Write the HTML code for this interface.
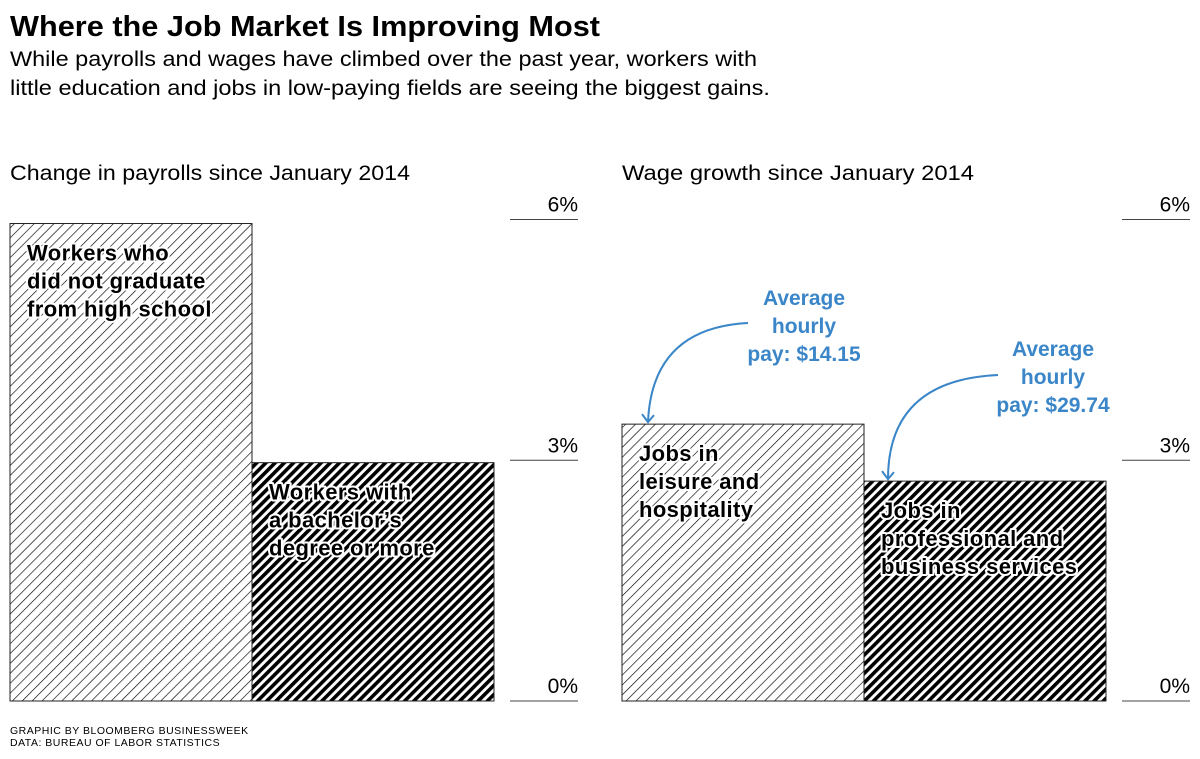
<!DOCTYPE html>
<html><head><meta charset="utf-8"><style>
html,body{margin:0;padding:0;background:#fff;}
svg{display:block;font-family:"Liberation Sans",sans-serif;}
.lbl{font-weight:bold;font-size:22px;fill:#000;stroke:#fff;stroke-width:4px;paint-order:stroke;stroke-linejoin:round;letter-spacing:0.4px}
.blue{font-weight:bold;font-size:21px;fill:#3a86c8;text-anchor:middle}
</style></head><body>
<svg id="chart" width="1200" height="759" viewBox="0 0 1200 759">
<defs>
<pattern id="light" patternUnits="userSpaceOnUse" width="7" height="7" patternTransform="rotate(45)"><rect width="7" height="7" fill="#fff"/><line x1="0" y1="0" x2="0" y2="7" stroke="#000" stroke-width="1.3"/></pattern>
<pattern id="dark" patternUnits="userSpaceOnUse" width="6.5" height="6.5" patternTransform="rotate(45)"><rect width="6.5" height="6.5" fill="#fff"/><rect x="0" y="0" width="3.6" height="6.5" fill="#000"/></pattern>
</defs>
<text x="10" y="36" font-size="29" font-weight="bold" textLength="590" lengthAdjust="spacingAndGlyphs">Where the Job Market Is Improving Most</text>
<text x="10" y="66" font-size="21" textLength="747" lengthAdjust="spacingAndGlyphs">While payrolls and wages have climbed over the past year, workers with</text>
<text x="10" y="95" font-size="21" textLength="760" lengthAdjust="spacingAndGlyphs">little education and jobs in low-paying fields are seeing the biggest gains.</text>
<text x="10" y="180" font-size="21" textLength="400" lengthAdjust="spacingAndGlyphs">Change in payrolls since January 2014</text>
<text x="622" y="180" font-size="21" textLength="352" lengthAdjust="spacingAndGlyphs">Wage growth since January 2014</text>
<g id="left"></g><g id="right"></g>
<text x="10" y="734" font-size="10.5" letter-spacing="0.5">GRAPHIC BY BLOOMBERG BUSINESSWEEK</text>
<text x="10" y="746" font-size="10.5" letter-spacing="0.5">DATA: BUREAU OF LABOR STATISTICS</text>
</svg>
<script>
const ticks = [0, 3, 6];
const tickLabels = ["0%", "3%", "6%"];
const payrollCategories = ["did-not-graduate", "bachelors-or-more"];
const payrollValues = [5.95, 2.97];
const wageCategories = ["leisure-hospitality", "professional-business"];
const wageValues = [3.45, 2.74];

const NS = "http://www.w3.org/2000/svg";
function y(v){ return 701 - v * 80.25; }
function mk(tag, attrs, parent){ const e = document.createElementNS(NS, tag); for (const k in attrs) e.setAttribute(k, attrs[k]); parent.appendChild(e); return e; }

function panel(gid, x0, cats, vals, labels){
  const g = document.getElementById(gid);
  const bw = 242;
  const fills = ["url(#light)", "url(#dark)"];
  vals.forEach((v, i) => {
    const r = mk("rect", {x: x0 + i*bw, y: y(v), width: bw, height: y(0) - y(v), fill: fills[i], stroke: "#222", "stroke-width": 1}, g);
    
    
  });
  ticks.forEach((t, i) => {
    const l = mk("line", {x1: x0 + 500, x2: x0 + 568, y1: y(t), y2: y(t), stroke: "#444", "stroke-width": 1}, g);
    
    
    const tx = mk("text", {x: x0 + 568, y: y(t) - 8, "font-size": 21, "text-anchor": "end"}, g);
    tx.textContent = tickLabels[i];
    
    
  });
  labels.forEach((lines, i) => {
    const tx = mk("text", {class: "lbl", x: x0 + i*bw + 17}, g);
    
    
    lines.forEach((s, j) => {
      const ts = mk("tspan", {x: x0 + i*bw + 17, y: y(vals[i]) + 37 + j*28}, tx);
      ts.textContent = s;
    });
  });
}
panel("left", 10, payrollCategories, payrollValues, [["Workers who","did not graduate","from high school"],["Workers with","a bachelor\u2019s","degree or more"]]);
panel("right", 622, wageCategories, wageValues, [["Jobs in","leisure and","hospitality"],["Jobs in","professional and","business services"]]);

const rg = document.getElementById("right");
function annot(cx, ty, lines, sx, sy, ex, ey, c1x, c1y, name){
  const tx = mk("text", {class: "blue"}, rg);
  
  
  lines.forEach((s, j) => { const ts = mk("tspan", {x: cx, y: ty + j*28}, tx); ts.textContent = s; });
  const p = mk("path", {d: `M${sx},${sy} Q${c1x},${c1y} ${ex},${ey}`, fill: "none", stroke: "#3a86c8", "stroke-width": 2}, rg);
  
  
  const h = mk("path", {d: `M${ex-6},${ey-8} L${ex},${ey} L${ex+6},${ey-7}`, fill: "none", stroke: "#3a86c8", "stroke-width": 2}, rg);
  
  
}
annot(804, 305, ["Average","hourly","pay: $14.15"], 748, 323, 648, y(wageValues[0]) - 2, 652, 328, "annotation-leisure");
annot(1053, 356, ["Average","hourly","pay: $29.74"], 998, 375, 888, y(wageValues[1]) - 2, 888, 380, "annotation-professional");
</script>
</body></html>
